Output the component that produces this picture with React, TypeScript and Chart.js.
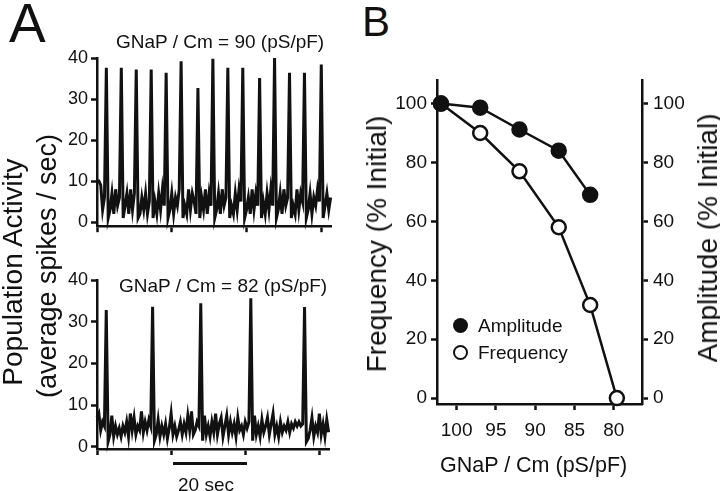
import React, { useEffect, useRef } from "react";
import { Chart, registerables } from "chart.js";

Chart.register(...registerables);

const FONT = '"Liberation Sans", Arial, Helvetica, sans-serif';
const INK = "#111111";

// ---------- Panel A : population activity traces ----------
const SAMPLE_DT = 0.5; // seconds between samples
const TRACE_90 = [
  10, 10, 9, 3, 6, 37.6, 1, 3, 7, 2, 8, 4, 6, 37.6, 1, 4, 7, 2, 8, 3,
  7, 37.2, 1, 2, 6, 3, 7, 2, 5, 37.2, 1, 5, 2, 7, 3, 8, 4, 36.4, 1, 3,
  7, 2, 6, 4, 8, 39.2, 1, 4, 2, 8, 3, 7, 5, 2, 32.7, 1, 6, 3, 8, 2,
  7, 4, 39.8, 1, 3, 7, 2, 8, 4, 6, 37.6, 1, 4, 2, 7, 3, 8, 5, 37.6, 1,
  3, 6, 2, 8, 3, 7, 4, 35.1, 1, 5, 2, 7, 3, 8, 4, 40, 1, 3, 7, 2,
  8, 4, 6, 36.4, 1, 4, 2, 8, 3, 7, 5, 36.4, 1, 3, 7, 2, 6, 4, 8, 5,
  38.4, 1, 4, 7, 3, 6,
];
const TRACE_82 = [
  7, 8, 4, 6, 5, 32.8, 1.3, 3, 7.5, 2.5, 5, 3, 4.5, 2.5, 5, 3.5, 6, 2.5, 8, 4,
  7, 3, 5, 4, 8.5, 3.5, 6, 4, 6.5, 5, 33.6, 1.5, 3, 6.5, 2.5, 5, 3, 5.5, 2, 4.5,
  8, 3, 5, 2.5, 4, 6, 3, 5.5, 3.5, 7.5, 4, 8.5, 3, 4, 6, 5, 34.4, 1.5, 7.5, 3,
  5, 2.5, 6, 3.5, 8, 3, 5.5, 7, 2.5, 5, 7.5, 3, 6, 3.5, 5.5, 2.5, 7, 4, 5, 3,
  6, 4.5, 6, 35.6, 1.5, 7.5, 3, 5, 2.5, 6.5, 3.5, 5, 7, 3, 5.5, 8, 3, 5, 2.5, 6,
  3.5, 5, 4, 6, 3.5, 5.5, 4.5, 6, 5, 6, 5, 5.5, 33.5, 1.2, 2, 4, 7, 2.5, 5, 3.5,
  8, 3, 5.5, 2.5, 6.5, 3.5,
];
const TRACE_Y_TICKS = [0, 10, 20, 30, 40];
const TRACE_X_TICKS = [0, 20, 40, 60];

// ---------- Panel B : frequency / amplitude vs GNaP/Cm ----------
const GNAP_AMP = [102, 97, 92, 87, 83];
const AMPLITUDE = [100, 98.6, 91.2, 84, 69];
const GNAP_FREQ = [102, 97, 92, 87, 83, 79.6];
const FREQUENCY = [100, 90, 77, 58, 31.6, 0];
const B_X_TICKS = [100, 95, 90, 85, 80];
const B_Y_TICKS = [0, 20, 40, 60, 80, 100];

const setTicks = (vals: number[]) => (s: any) => {
  s.ticks = vals.map((v) => ({ value: v }));
};

function axisLook(tickLength: number) {
  return {
    border: { display: true, color: INK, width: 2.5 },
    grid: {
      display: true,
      drawOnChartArea: false,
      drawTicks: true,
      tickLength,
      tickWidth: 2.5,
      tickColor: INK,
    },
  };
}

function ChartBox({ config, left, top, width, height }: any) {
  const ref = useRef<HTMLCanvasElement | null>(null);
  useEffect(() => {
    if (!ref.current) return;
    const chart = new Chart(ref.current, config);
    return () => chart.destroy();
  }, []);
  return (
    <canvas
      ref={ref}
      width={width}
      height={height}
      style={{ position: "absolute", left, top, width, height }}
    />
  );
}

function traceConfig(values: number[], opts: any) {
  return {
    type: "line",
    data: {
      datasets: [
        {
          data: values.map((y, i) => ({ x: i * SAMPLE_DT, y })),
          borderColor: INK,
          borderWidth: 3,
          pointRadius: 0,
          tension: 0,
          clip: false,
        },
      ],
    },
    options: {
      responsive: false,
      animation: false,
      devicePixelRatio: 1,
      layout: { padding: opts.padding },
      plugins: { legend: { display: false }, tooltip: { enabled: false } },
      scales: {
        x: {
          type: "linear",
          min: 0,
          max: opts.xMax,
          afterBuildTicks: setTicks(TRACE_X_TICKS),
          afterFit: (s: any) => {
            s.height = opts.xHeight;
          },
          ticks: { display: false },
          ...axisLook(6),
        },
        y: {
          type: "linear",
          min: opts.yMin,
          max: 40,
          afterBuildTicks: setTicks(TRACE_Y_TICKS),
          afterFit: (s: any) => {
            s.width = 97;
          },
          ticks: { font: { family: FONT, size: 18 }, color: INK, padding: 3 },
          ...axisLook(6),
        },
      },
    },
  };
}

const topTrace = traceConfig(TRACE_90, {
  padding: { left: 0, right: 29, top: 18, bottom: 0 },
  xMax: 62.6,
  xHeight: 13,
  yMin: -1,
});
const bottomTrace = traceConfig(TRACE_82, {
  padding: { left: 0, right: 31, top: 20, bottom: 0 },
  xMax: 62.6,
  xHeight: 16,
  yMin: -0.5,
});

const panelB = {
  type: "line",
  data: {
    datasets: [
      {
        label: "Amplitude",
        data: GNAP_AMP.map((x, i) => ({ x, y: AMPLITUDE[i] })),
        borderColor: INK,
        borderWidth: 2.5,
        pointRadius: 7,
        pointBorderWidth: 2.5,
        pointBackgroundColor: INK,
        pointBorderColor: INK,
        tension: 0,
        clip: false,
        order: 0,
      },
      {
        label: "Frequency",
        data: GNAP_FREQ.map((x, i) => ({ x, y: FREQUENCY[i] })),
        borderColor: INK,
        borderWidth: 2.5,
        pointRadius: 7,
        pointBorderWidth: 2.5,
        pointBackgroundColor: "#ffffff",
        pointBorderColor: INK,
        tension: 0,
        clip: false,
        order: 1,
      },
    ],
  },
  options: {
    responsive: false,
    animation: false,
    devicePixelRatio: 1,
    layout: { padding: { left: 0, right: 0, top: 20, bottom: 0 } },
    plugins: { legend: { display: false }, tooltip: { enabled: false } },
    scales: {
      x: {
        type: "linear",
        reverse: true,
        min: 76.4,
        max: 102.5,
        afterBuildTicks: setTicks(B_X_TICKS),
        afterFit: (s: any) => {
          s.height = 56;
        },
        ticks: { font: { family: FONT, size: 19 }, color: INK, padding: 9 },
        ...axisLook(6),
      },
      y: {
        type: "linear",
        position: "left",
        min: -2,
        max: 108,
        afterBuildTicks: setTicks(B_Y_TICKS),
        afterFit: (s: any) => {
          s.width = 87;
        },
        ticks: { font: { family: FONT, size: 19 }, color: INK, padding: 4 },
        ...axisLook(6),
      },
      y1: {
        type: "linear",
        position: "right",
        min: -2,
        max: 108,
        afterBuildTicks: setTicks(B_Y_TICKS),
        afterFit: (s: any) => {
          s.width = 78;
        },
        ticks: { font: { family: FONT, size: 19 }, color: INK, padding: 5 },
        ...axisLook(6),
      },
    },
  },
};

function Txt({ x, y, fs, children }: any) {
  return (
    <div
      style={{
        position: "absolute",
        left: x,
        top: y,
        fontSize: fs,
        lineHeight: `${fs}px`,
        whiteSpace: "nowrap",
      }}
    >
      {children}
    </div>
  );
}

function VTxt({ cx, cy, fs, children }: any) {
  return (
    <div
      style={{
        position: "absolute",
        left: cx,
        top: cy,
        fontSize: fs,
        lineHeight: `${fs}px`,
        whiteSpace: "nowrap",
        transform: "translate(-50%, -50%) rotate(-90deg)",
      }}
    >
      {children}
    </div>
  );
}

export default function App() {
  return (
    <div
      style={{
        position: "absolute",
        left: 0,
        top: 0,
        width: 720,
        height: 491,
        overflow: "hidden",
        background: "#ffffff",
        fontFamily: FONT,
        color: INK,
      }}
    >
      <ChartBox config={topTrace} left={0} top={40} width={360} height={200} />
      <ChartBox config={bottomTrace} left={0} top={260} width={360} height={205} />
      <ChartBox config={panelB} left={350} top={60} width={370} height={400} />

      <Txt x={9} y={-4} fs={55}>A</Txt>
      <Txt x={362} y={1} fs={42}>B</Txt>

      <Txt x={116} y={32} fs={19}>GNaP / Cm = 90 (pS/pF)</Txt>
      <Txt x={119} y={276} fs={19}>GNaP / Cm = 82 (pS/pF)</Txt>

      <VTxt cx={12.5} cy={272} fs={28}>Population Activity</VTxt>
      <VTxt cx={47} cy={266} fs={27}>(average spikes / sec)</VTxt>

      <div
        style={{
          position: "absolute",
          left: 173,
          top: 461.5,
          width: 74,
          height: 3,
          background: INK,
        }}
      />
      <Txt x={178} y={474.5} fs={19}>20 sec</Txt>

      <VTxt cx={377} cy={244} fs={28}>Frequency (% Initial)</VTxt>
      <VTxt cx={708} cy={238} fs={28}>Amplitude (% Initial)</VTxt>
      <Txt x={440} y={455} fs={21.5}>GNaP / Cm (pS/pF)</Txt>

      <div
        style={{
          position: "absolute",
          left: 452.5,
          top: 317.5,
          width: 15,
          height: 15,
          borderRadius: "50%",
          background: INK,
        }}
      />
      <Txt x={478} y={316} fs={19}>Amplitude</Txt>
      <div
        style={{
          position: "absolute",
          left: 452.5,
          top: 344.5,
          width: 15,
          height: 15,
          boxSizing: "border-box",
          borderRadius: "50%",
          border: `2.5px solid ${INK}`,
          background: "#ffffff",
        }}
      />
      <Txt x={478} y={343} fs={19}>Frequency</Txt>
    </div>
  );
}
